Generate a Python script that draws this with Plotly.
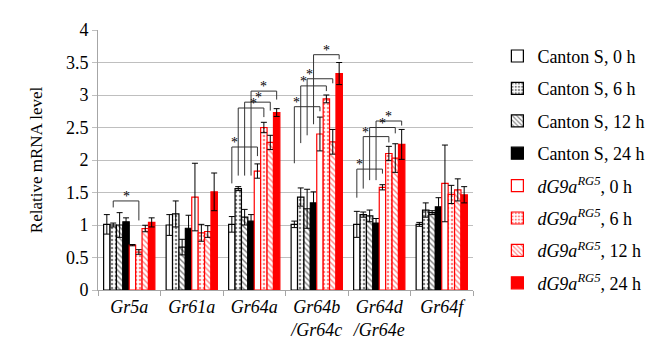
import plotly.graph_objects as go

genes = ["<i>Gr5a</i>", "<i>Gr61a</i>", "<i>Gr64a</i>", "<i>Gr64b</i><br><i>/Gr64c</i>",
         "<i>Gr64d</i><br><i>/Gr64e</i>", "<i>Gr64f</i>"]

series_names = ["Canton S, 0 h", "Canton S, 6 h", "Canton S, 12 h", "Canton S, 24 h",
                "<i>dG9a</i><sup><i>RG5</i></sup>, 0 h", "<i>dG9a</i><sup><i>RG5</i></sup>, 6 h",
                "<i>dG9a</i><sup><i>RG5</i></sup>, 12 h", "<i>dG9a</i><sup><i>RG5</i></sup>, 24 h"]

# values per series (across genes)
cs_0h = [1.01, 1.00, 1.01, 1.01, 1.01, 1.01]
cs_6h = [1.00, 1.17, 1.56, 1.43, 1.16, 1.23]
cs_12h = [1.00, 0.66, 1.12, 1.25, 1.14, 1.19]
cs_24h = [1.05, 0.95, 1.06, 1.34, 1.03, 1.28]
mu_0h = [0.69, 1.43, 1.83, 2.40, 1.58, 1.64]
mu_6h = [0.585, 0.88, 2.50, 2.94, 2.10, 1.47]
mu_12h = [0.946, 0.90, 2.27, 2.28, 2.03, 1.54]
mu_24h = [1.04, 1.51, 2.73, 3.33, 2.24, 1.465]

cs_0h_err = [0.15, 0.16, 0.12, 0.05, 0.20, 0.03]
cs_6h_err = [0.03, 0.20, 0.03, 0.14, 0.04, 0.11]
cs_12h_err = [0.19, 0.12, 0.12, 0.30, 0.09, 0.03]
cs_24h_err = [0.06, 0.20, 0.10, 0.17, 0.07, 0.14]
mu_0h_err = [0.01, 0.52, 0.11, 0.26, 0.04, 0.59]
mu_6h_err = [0.035, 0.13, 0.08, 0.06, 0.11, 0.14]
mu_12h_err = [0.05, 0.09, 0.11, 0.19, 0.22, 0.17]
mu_24h_err = [0.07, 0.29, 0.06, 0.17, 0.23, 0.125]

values = [cs_0h, cs_6h, cs_12h, cs_24h, mu_0h, mu_6h, mu_12h, mu_24h]
errors = [cs_0h_err, cs_6h_err, cs_12h_err, cs_24h_err, mu_0h_err, mu_6h_err, mu_12h_err, mu_24h_err]

# significance brackets: (gene index, bar from, bar to, left drop y, top y, right drop y, star position fraction)
brackets = [
    (0, 1, 5, 1.27, 1.37, 1.07, 0.5),
    (2, 0, 4, 1.64, 2.20, 2.06, 0.1),
    (2, 1, 5, 1.76, 2.80, 2.66, 0.6),
    (2, 2, 6, 1.76, 2.89, 2.76, 0.55),
    (2, 3, 7, 1.76, 3.06, 2.93, 0.5),
    (3, 0, 4, 1.95, 2.82, 2.75, 0.1),
    (3, 1, 5, 2.26, 3.14, 3.06, 0.1),
    (3, 2, 6, 2.38, 3.25, 3.18, 0.1),
    (3, 3, 7, 2.55, 3.62, 3.55, 0.5),
    (4, 0, 4, 1.42, 1.86, 1.79, 0.1),
    (4, 1, 5, 1.56, 2.36, 2.27, 0.1),
    (4, 2, 6, 1.69, 2.50, 2.41, 0.5),
    (4, 3, 7, 1.69, 2.60, 2.53, 0.5),
]

FONT = "serif"
BLACK = "black"
RED = "#FF0000"
styles = [
    dict(color="white", line=BLACK, shape="", fg=BLACK),
    dict(color="white", line=BLACK, shape=".", fg=BLACK),
    dict(color="white", line=BLACK, shape="\\", fg=BLACK),
    dict(color=BLACK, line=BLACK, shape="", fg=BLACK),
    dict(color="white", line=RED, shape="", fg=RED),
    dict(color="white", line=RED, shape=".", fg=RED),
    dict(color="white", line=RED, shape="\\", fg=RED),
    dict(color=RED, line=RED, shape="", fg=RED),
]

fig = go.Figure()
for i, (name, vals, errs, st) in enumerate(zip(series_names, values, errors, styles)):
    marker = dict(color=st["color"], line=dict(color=st["line"], width=1.2))
    if st["shape"]:
        marker["pattern"] = dict(shape=st["shape"], fgcolor=st["fg"], bgcolor="white",
                                 size=4, solidity=0.35, fillmode="overlay")
    fig.add_trace(go.Bar(
        x=genes, y=vals, name=name, marker=marker, legendgroup=f"g{i}",
        error_y=dict(type="data", array=errs, visible=True, color="black",
                     thickness=1, width=3),
    ))

bargap = 0.18
w = (1 - bargap) / 8


def bar_x(g, b):
    return g + (b - 3.5) * w


shapes = []
annotations = []
for g, b0, b1, yl, yt, yr, frac in brackets:
    x0 = bar_x(g, b0)
    x1 = bar_x(g, b1)
    shapes.append(dict(type="path", xref="x", yref="y",
                       path=f"M {x0},{yl} L {x0},{yt} L {x1},{yt} L {x1},{yr}",
                       line=dict(color="#333333", width=1)))
    annotations.append(dict(x=x0 + (x1 - x0) * frac, y=yt, xref="x", yref="y",
                            text="*", showarrow=False, yanchor="bottom", yshift=-5,
                            font=dict(size=14, color="black", family=FONT)))

fig.update_layout(
    width=654, height=344,
    margin=dict(l=90, r=175, t=17, b=54),
    paper_bgcolor="white", plot_bgcolor="white",
    barmode="group", bargap=bargap, bargroupgap=0,
    font=dict(family=FONT, size=18, color="black"),
    shapes=shapes, annotations=annotations,
    legend=dict(x=1.065, y=0.97, xanchor="left", yanchor="top",
                font=dict(size=18, family=FONT, color="black"),
                tracegroupgap=6, itemwidth=30, bgcolor="rgba(0,0,0,0)"),
    showlegend=True,
)
fig.update_xaxes(type="category", showline=True, linecolor="#A6A6A6", linewidth=1,
                 ticks="outside", tickson="boundaries", ticklen=5, tickcolor="#A6A6A6",
                 showgrid=False, tickfont=dict(size=18, family=FONT, color="black"),
                 tickangle=0, range=[-0.5, 5.5])
fig.update_yaxes(range=[0, 4], dtick=0.5, showgrid=True, gridcolor="#BFBFBF", gridwidth=1,
                 showline=True, linecolor="#A6A6A6", ticks="outside", ticklen=5,
                 tickcolor="#BFBFBF", zeroline=False,
                 tickfont=dict(size=18, family=FONT, color="black"),
                 title=dict(text="Relative mRNA level", standoff=18,
                            font=dict(size=17, family=FONT, color="black")))

fig.write_html("out.html")
